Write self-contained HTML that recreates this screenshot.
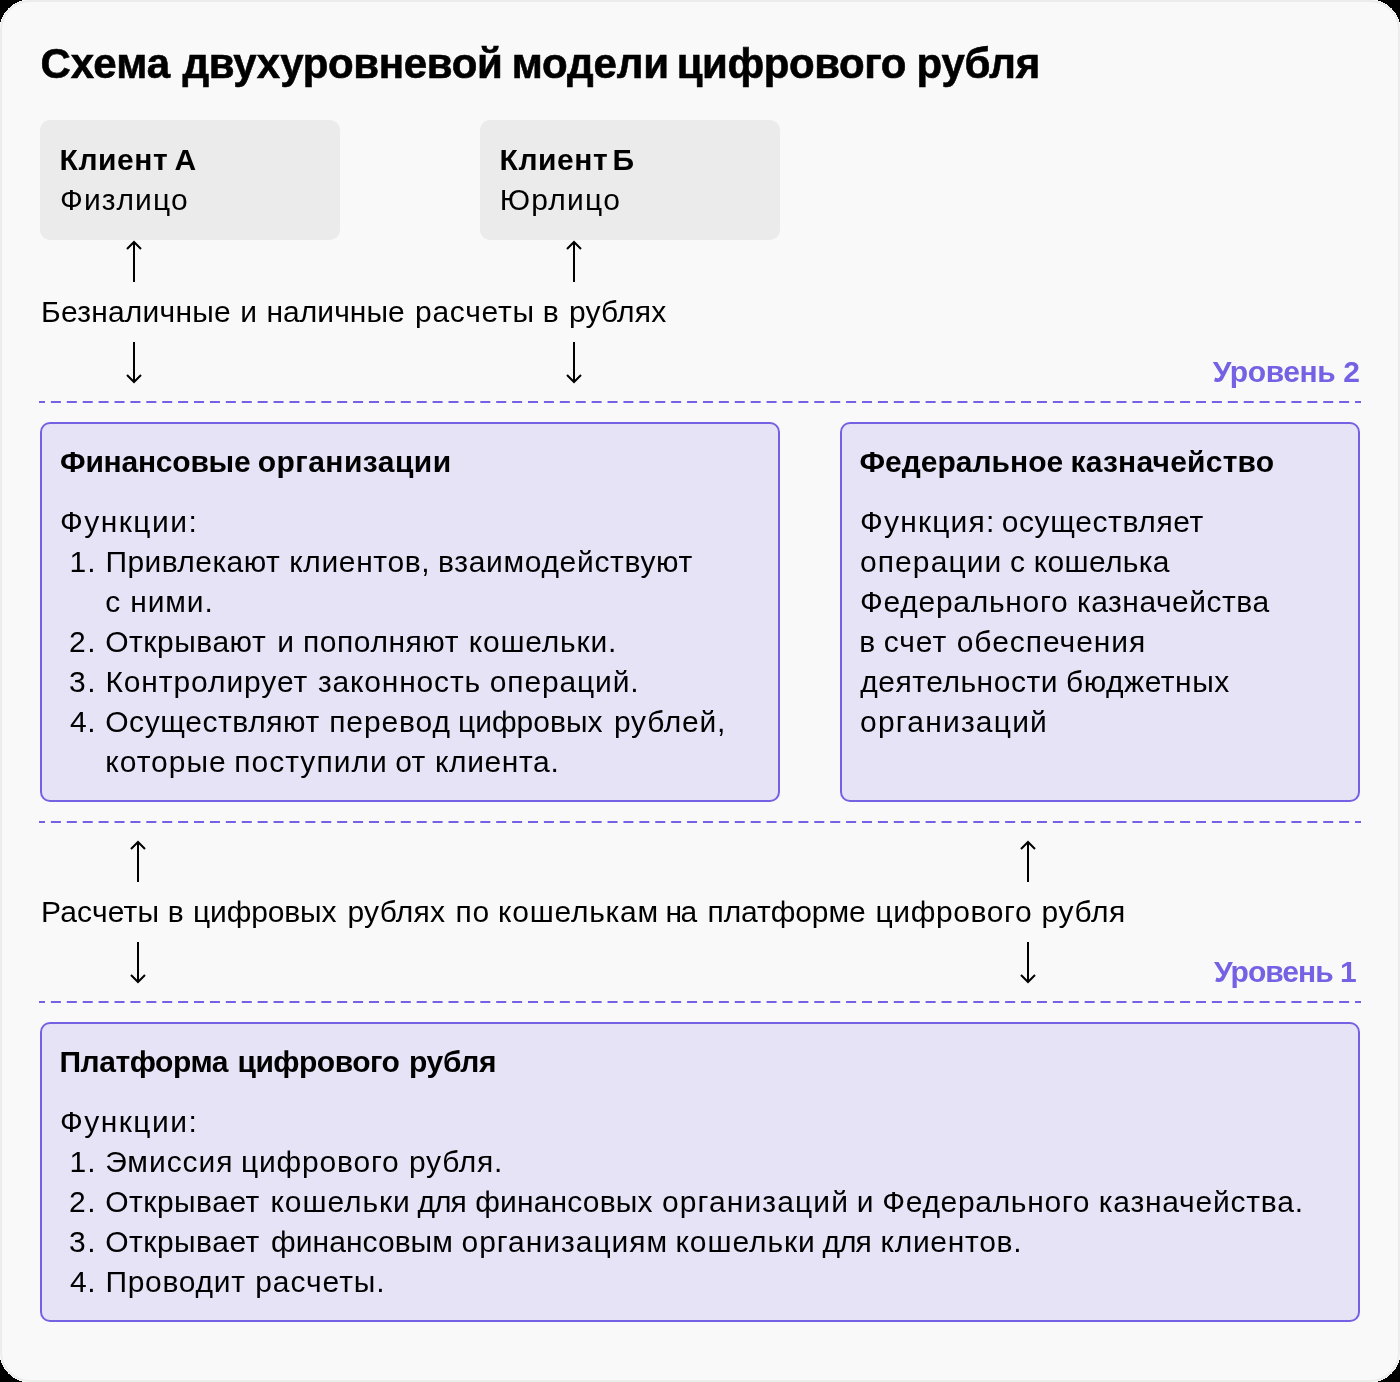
<!DOCTYPE html>
<html lang="ru"><head><meta charset="utf-8"><title>Схема двухуровневой модели цифрового рубля</title>
<style>
html,body{margin:0;padding:0;background:#000;}
body{width:1400px;height:1382px;position:relative;overflow:hidden;font-family:"Liberation Sans",sans-serif;}
.card{position:absolute;left:0;top:0;width:1400px;height:1382px;box-sizing:border-box;background:#f9f9f9;border:2px solid #ececec;border-radius:30px;}
.g{position:absolute;background:#ebebeb;border-radius:10px;}
.pb{position:absolute;box-sizing:border-box;background:#e6e3f6;border:2px solid #7461e3;border-radius:10px;}
.txt{position:absolute;left:0;top:0;width:1400px;height:1382px;will-change:transform;}
.t{position:absolute;white-space:nowrap;line-height:1;color:#000;font-size:30px;}
.t span{position:absolute;top:0;}
.b{font-weight:bold;}
.p{color:#7461e3;}
svg{position:absolute;left:0;top:0;}
</style></head><body>
<svg width="1400" height="1382" viewBox="0 0 1400 1382"><rect x="-0.5" y="-0.5" width="1401" height="1383" rx="30.5" fill="#fdfdfd" shape-rendering="crispEdges"/></svg>
<div class="card"></div>
<div class="g" style="left:40px;top:120px;width:300px;height:120px"></div>
<div class="g" style="left:480px;top:120px;width:300px;height:120px"></div>
<div class="pb" style="left:40px;top:422px;width:740px;height:380px"></div>
<div class="pb" style="left:840px;top:422px;width:520px;height:380px"></div>
<div class="pb" style="left:40px;top:1022px;width:1320px;height:300px"></div>

<svg width="1400" height="1382" viewBox="0 0 1400 1382" fill="none">
<line x1="39" y1="402" x2="1361" y2="402" stroke="#7461e3" stroke-width="2" stroke-dasharray="10 5.904" stroke-dashoffset="4"/>
<line x1="39" y1="822" x2="1361" y2="822" stroke="#7461e3" stroke-width="2" stroke-dasharray="10 5.904" stroke-dashoffset="4"/>
<line x1="39" y1="1002" x2="1361" y2="1002" stroke="#7461e3" stroke-width="2" stroke-dasharray="10 5.904" stroke-dashoffset="4"/>
<path d="M134 282V242M127 249L134 242L141 249" stroke="#000" stroke-width="2"/>
<path d="M134 342V382M127 375L134 382L141 375" stroke="#000" stroke-width="2"/>
<path d="M574 282V242M567 249L574 242L581 249" stroke="#000" stroke-width="2"/>
<path d="M574 342V382M567 375L574 382L581 375" stroke="#000" stroke-width="2"/>
<path d="M138 882V842M131 849L138 842L145 849" stroke="#000" stroke-width="2"/>
<path d="M138 942V982M131 975L138 982L145 975" stroke="#000" stroke-width="2"/>
<path d="M1028 882V842M1021 849L1028 842L1035 849" stroke="#000" stroke-width="2"/>
<path d="M1028 942V982M1021 975L1028 982L1035 975" stroke="#000" stroke-width="2"/>
</svg>
<div class="txt">
<div class="t b" id="title" style="left:40.40px;top:43.00px;font-size:42px;-webkit-text-stroke:0.6px #000;"><span style="left:0.00px;letter-spacing:0.097px">Схема </span><span style="left:142.10px;letter-spacing:-0.355px">двухуровневой </span><span style="left:471.35px;letter-spacing:-0.163px">модели </span><span style="left:636.35px;letter-spacing:-0.451px">цифрового </span><span style="left:876.20px;letter-spacing:-0.209px">рубля</span></div>
<div class="t b" id="ca" style="left:59.60px;top:145.00px;"><span style="left:0.00px;letter-spacing:0.557px">Клиент </span><span style="left:114.90px;letter-spacing:0.000px">А</span></div>
<div class="t" id="fiz" style="left:60.00px;top:185.00px;letter-spacing:1.151px;">Физлицо</div>
<div class="t b" id="cb" style="left:499.60px;top:145.00px;"><span style="left:0.00px;letter-spacing:0.557px">Клиент </span><span style="left:113.02px;letter-spacing:0.000px">Б</span></div>
<div class="t" id="yur" style="left:499.75px;top:185.00px;letter-spacing:1.285px;">Юрлицо</div>
<div class="t" id="bez" style="left:41.00px;top:297.00px;"><span style="left:0.00px;letter-spacing:0.226px">Безналичные </span><span style="left:199.25px;letter-spacing:0.000px">и </span><span style="left:225.50px;letter-spacing:0.032px">наличные </span><span style="left:374.00px;letter-spacing:0.735px">расчеты </span><span style="left:501.75px;letter-spacing:0.000px">в </span><span style="left:528.00px;letter-spacing:0.196px">рублях</span></div>
<div class="t b p" id="lv2" style="left:1212.70px;top:357.00px;letter-spacing:-0.400px;">Уровень 2</div>
<div class="t b" id="fo" style="left:60.00px;top:447.00px;"><span style="left:0.00px;letter-spacing:-0.227px">Финансовые </span><span style="left:197.75px;letter-spacing:0.447px">организации</span></div>
<div class="t" id="f1" style="left:59.90px;top:507.00px;letter-spacing:1.472px;">Функции:</div>
<div class="t" id="n1" style="left:69.50px;top:547.00px;letter-spacing:1.015px;">1.</div>
<div class="t" id="l1" style="left:105.40px;top:547.00px;"><span style="left:0.00px;letter-spacing:0.427px">Привлекают </span><span style="left:183.85px;letter-spacing:0.631px">клиентов, </span><span style="left:332.60px;letter-spacing:0.668px">взаимодействуют</span></div>
<div class="t" id="l1b" style="left:105.20px;top:587.00px;letter-spacing:0.876px;">с ними.</div>
<div class="t" id="n2" style="left:68.90px;top:627.00px;letter-spacing:1.615px;">2.</div>
<div class="t" id="l2" style="left:105.20px;top:627.00px;"><span style="left:0.00px;letter-spacing:0.528px">Открывают </span><span style="left:172.18px;letter-spacing:0.000px">и </span><span style="left:197.80px;letter-spacing:0.549px">пополняют </span><span style="left:363.55px;letter-spacing:0.791px">кошельки.</span></div>
<div class="t" id="n3" style="left:68.90px;top:667.00px;letter-spacing:1.615px;">3.</div>
<div class="t" id="l3" style="left:105.40px;top:667.00px;"><span style="left:0.00px;letter-spacing:0.905px">Контролирует </span><span style="left:212.60px;letter-spacing:0.817px">законность </span><span style="left:384.35px;letter-spacing:0.859px">операций.</span></div>
<div class="t" id="n4" style="left:69.90px;top:707.00px;letter-spacing:0.615px;">4.</div>
<div class="t" id="l4" style="left:105.20px;top:707.00px;"><span style="left:0.00px;letter-spacing:0.578px">Осуществляют </span><span style="left:224.05px;letter-spacing:0.888px">перевод </span><span style="left:352.80px;letter-spacing:0.001px">цифровых </span><span style="left:508.80px;letter-spacing:0.756px">рублей,</span></div>
<div class="t" id="l4b" style="left:105.20px;top:747.00px;"><span style="left:0.00px;letter-spacing:0.996px">которые </span><span style="left:129.05px;letter-spacing:1.029px">поступили </span><span style="left:290.05px;letter-spacing:0.225px">от </span><span style="left:329.80px;letter-spacing:0.619px">клиента.</span></div>
<div class="t b" id="fk" style="left:859.50px;top:447.00px;"><span style="left:0.00px;letter-spacing:0.003px">Федеральное </span><span style="left:211.00px;letter-spacing:0.209px">казначейство</span></div>
<div class="t" id="r1" style="left:860.00px;top:507.00px;"><span style="left:0.00px;letter-spacing:1.188px">Функция: </span><span style="left:141.70px;letter-spacing:0.614px">осуществляет</span></div>
<div class="t" id="r2" style="left:860.00px;top:547.00px;"><span style="left:0.00px;letter-spacing:1.082px">операции </span><span style="left:149.95px;letter-spacing:0.000px">с </span><span style="left:173.80px;letter-spacing:0.311px">кошелька</span></div>
<div class="t" id="r3" style="left:860.00px;top:587.00px;"><span style="left:0.00px;letter-spacing:0.722px">Федерального </span><span style="left:216.90px;letter-spacing:0.519px">казначейства</span></div>
<div class="t" id="r4" style="left:859.30px;top:627.00px;"><span style="left:0.00px;letter-spacing:0.000px">в </span><span style="left:24.40px;letter-spacing:0.906px">счет </span><span style="left:97.40px;letter-spacing:0.961px">обеспечения</span></div>
<div class="t" id="r5" style="left:860.30px;top:667.00px;"><span style="left:0.00px;letter-spacing:0.522px">деятельности </span><span style="left:205.70px;letter-spacing:0.518px">бюджетных</span></div>
<div class="t" id="r6" style="left:860.00px;top:707.00px;letter-spacing:1.206px;">организаций</div>
<div class="t" id="ras" style="left:41.00px;top:897.00px;"><span style="left:0.00px;letter-spacing:0.180px">Расчеты </span><span style="left:126.75px;letter-spacing:0.000px">в </span><span style="left:152.00px;letter-spacing:-0.142px">цифровых </span><span style="left:306.50px;letter-spacing:0.246px">рублях </span><span style="left:414.50px;letter-spacing:0.755px">по </span><span style="left:457.00px;letter-spacing:0.749px">кошелькам </span><span style="left:624.50px;letter-spacing:-1.567px">на </span><span style="left:666.50px;letter-spacing:-0.087px">платформе </span><span style="left:834.50px;letter-spacing:0.617px">цифрового </span><span style="left:1000.50px;letter-spacing:0.619px">рубля</span></div>
<div class="t b p" id="lv1" style="left:1214.00px;top:957.00px;letter-spacing:-0.975px;">Уровень 1</div>
<div class="t b" id="pl" style="left:59.50px;top:1047.00px;"><span style="left:0.00px;letter-spacing:-0.457px">Платформа </span><span style="left:178.00px;letter-spacing:-0.532px">цифрового </span><span style="left:349.50px;letter-spacing:-0.364px">рубля</span></div>
<div class="t" id="f2" style="left:59.90px;top:1107.00px;letter-spacing:1.472px;">Функции:</div>
<div class="t" id="m1" style="left:69.50px;top:1147.00px;letter-spacing:1.015px;">1.</div>
<div class="t" id="p1" style="left:105.20px;top:1147.00px;"><span style="left:0.00px;letter-spacing:0.956px">Эмиссия </span><span style="left:135.80px;letter-spacing:0.805px">цифрового </span><span style="left:303.80px;letter-spacing:0.746px">рубля.</span></div>
<div class="t" id="m2" style="left:68.90px;top:1187.00px;letter-spacing:1.615px;">2.</div>
<div class="t" id="p2" style="left:105.20px;top:1187.00px;"><span style="left:0.00px;letter-spacing:0.497px">Открывает </span><span style="left:165.30px;letter-spacing:0.905px">кошельки </span><span style="left:312.30px;letter-spacing:-1.005px">для </span><span style="left:370.05px;letter-spacing:0.163px">финансовых </span><span style="left:556.80px;letter-spacing:1.121px">организаций </span><span style="left:751.67px;letter-spacing:0.000px">и </span><span style="left:777.05px;letter-spacing:0.676px">Федерального </span><span style="left:993.55px;letter-spacing:0.781px">казначейства.</span></div>
<div class="t" id="m3" style="left:68.90px;top:1227.00px;letter-spacing:1.615px;">3.</div>
<div class="t" id="p3" style="left:105.20px;top:1227.00px;"><span style="left:0.00px;letter-spacing:0.497px">Открывает </span><span style="left:165.80px;letter-spacing:0.052px">финансовым </span><span style="left:356.30px;letter-spacing:0.974px">организациям </span><span style="left:570.30px;letter-spacing:0.905px">кошельки </span><span style="left:717.30px;letter-spacing:-1.005px">для </span><span style="left:775.30px;letter-spacing:0.712px">клиентов.</span></div>
<div class="t" id="m4" style="left:69.90px;top:1267.00px;letter-spacing:0.615px;">4.</div>
<div class="t" id="p4" style="left:105.40px;top:1267.00px;"><span style="left:0.00px;letter-spacing:0.711px">Проводит </span><span style="left:149.80px;letter-spacing:0.921px">расчеты.</span></div>
</div>
</body></html>
